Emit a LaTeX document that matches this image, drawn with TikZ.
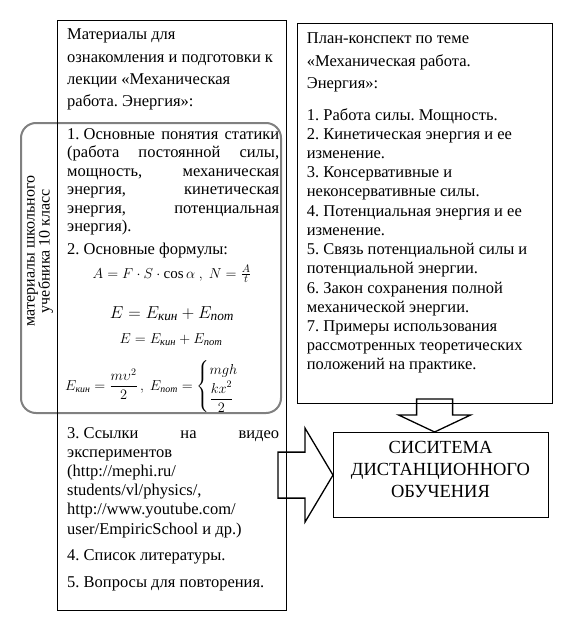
\documentclass[tikz,border=0pt]{standalone}
\usepackage{fontspec}
\usepackage{amsmath}
\setmainfont{Liberation Serif}
\usetikzlibrary{calc}
\frenchspacing
\newcommand{\J}[1]{\makebox[212pt][s]{#1}}
\newcommand{\fs}{\hspace{0.25em}}
\newcommand{\ks}{\text{\itshape кин}}
\newcommand{\ps}{\text{\itshape пот}}
\begin{document}
\frenchspacing
\begin{tikzpicture}[x=1pt,y=-1pt,
  box/.style={draw=black, line width=1.2pt, inner sep=0pt, anchor=north west},
  txt/.style={anchor=base west, inner sep=0pt},
  formula/.style={anchor=base, inner sep=0pt},
  blockarrow/.style={draw=black, line width=1.3pt, line join=miter},
]
\useasboundingbox (0,0) rectangle (570,626);

% grey rounded frame (school textbook materials)
\node[draw=gray, line width=2pt, rounded corners=15pt, inner sep=0pt, anchor=north west,
      minimum width=260pt, minimum height=290pt] (school) at (20,122) {};
\node[rotate=90, inner sep=0pt, align=center, font=\fontsize{16}{15}\selectfont] (schooltext) at (40,251)
  {материалы школьного\\учебника 10 класс};

% left box
\node[box, minimum width=229pt, minimum height=590pt] (left) at (57,20) {};
\node[txt] (lhead) at (67,40) {\parbox[t]{215pt}{\raggedright\fontsize{16.5}{22.2}\selectfont
  Материалы для\\ознакомления и подготовки к\\лекции «Механическая\\работа. Энергия»:}};
\node[txt] (item1) at (67,139.3) {\parbox[t]{212pt}{\fontsize{16.5}{18.5}\selectfont
  \J{1.\fs Основные понятия статики}\\
  \J{(работа постоянной силы,}\\
  \J{мощность, механическая}\\
  \J{энергия, кинетическая}\\
  \J{энергия, потенциальная}\\
  энергия).}};
\node[txt, font=\fontsize{16.5}{18.5}\selectfont] (item2) at (67,254) {2.\fs Основные формулы:};
\node[formula, font=\fontsize{15}{18}\selectfont] (f1) at (172,278)
  {$A = F\cdot S\cdot \cos\alpha\ ,\ N=\frac{A}{t}$};
\node[formula, font=\fontsize{19}{22}\selectfont] (f2) at (172,318)
  {$E = E_{\ks} + E_{\ps}$};
\node[formula, font=\fontsize{15}{18}\selectfont] (f3) at (171,343)
  {$E = E_{\ks} + E_{\ps}$};
\node[anchor=base west, inner sep=0pt, font=\fontsize{14}{17}\selectfont] (f4) at (65,390)
  {$E_{\ks} = \dfrac{m\upsilon^2}{2}\, ,\ E_{\ps} = \begin{cases} mgh\\[1pt] \dfrac{kx^2}{2}\end{cases}$};
\node[txt] (item3) at (67,438) {\parbox[t]{212pt}{\raggedright\fontsize{16.5}{19.2}\selectfont
  \J{3.\fs Ссылки на видео}\\
  экспериментов\\
  (http://mephi.ru/\\
  students/vl/physics/,\\
  http://www.youtube.com/\\
  user/EmpiricSchool и др.)}};
\node[txt, font=\fontsize{16.5}{19}\selectfont] (item4) at (67,560) {4.\fs Список литературы.};
\node[txt, font=\fontsize{16.5}{19}\selectfont] (item5) at (67,587.3) {5.\fs Вопросы для повторения.};

% right box (plan)
\node[box, minimum width=255pt, minimum height=380pt] (plan) at (297,23) {};
\node[txt] (planhead) at (306.7,44) {\parbox[t]{240pt}{\raggedright\fontsize{16.5}{22.2}\selectfont
  План-конспект по теме\\«Механическая работа.\\Энергия»:}};
\node[txt] (planlist) at (306.7,120) {\parbox[t]{240pt}{\raggedright\fontsize{16.5}{19.23}\selectfont
  1.\fs Работа силы. Мощность.\\
  2.\fs Кинетическая энергия и ее\\
  изменение.\\
  3.\fs Консервативные и\\
  неконсервативные силы.\\
  4.\fs Потенциальная энергия и ее\\
  изменение.\\
  5.\fs Связь потенциальной силы и\\
  потенциальной энергии.\\
  6.\fs Закон сохранения полной\\
  механической энергии.\\
  7.\fs Примеры использования\\
  рассмотренных теоретических\\
  положений на практике.}};

% distance learning system box
\node[box, minimum width=215pt, minimum height=85pt] (sys) at (333,432) {};
\node[anchor=base, inner sep=0pt] (systext) at (440.5,453) {\parbox[t]{215pt}{\centering\fontsize{18.5}{22}\selectfont
  СИСИТЕМА\\ДИСТАНЦИОННОГО\\ОБУЧЕНИЯ}};

% block arrows
\coordinate (tipR) at (sys.west);
\draw[blockarrow] ($(tipR)+(-55,-23)$) -- ($(tipR)+(-28,-23)$) -- ($(tipR)+(-28,-47)$)
  -- (tipR) -- ($(tipR)+(-28,47)$) -- ($(tipR)+(-28,23)$) -- ($(tipR)+(-55,23)$) -- cycle;
\coordinate (tipD) at ($(sys.north)+(-6.5,0)$);
\draw[blockarrow] ($(tipD)+(-18,-33)$) -- ($(tipD)+(18,-33)$) -- ($(tipD)+(18,-17)$)
  -- ($(tipD)+(36,-17)$) -- (tipD) -- ($(tipD)+(-36,-17)$) -- ($(tipD)+(-18,-17)$) -- cycle;
\end{tikzpicture}
\end{document}
